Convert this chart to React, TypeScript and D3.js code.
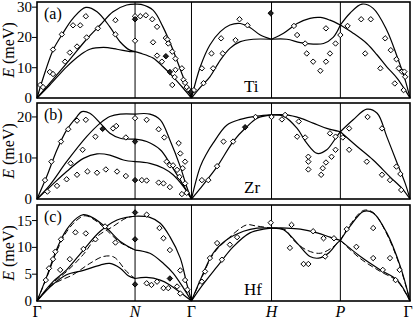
import React from 'react';
import * as d3 from 'd3';

// path coordinate along Γ-N-Γ-H-P-Γ (units of 2π/a)
const symPos = [0, 1.225, 1.93, 2.93, 3.79, 4.66];
const symLabels = ['Γ', 'N', 'Γ', 'H', 'P', 'Γ'];

type Pt = [number, number];

// ---- Ti ----
const tiCurves: Pt[][] = [
  [[0, 0], [0.1, 8.5], [0.2, 15.8], [0.31, 20.8], [0.45, 26.3], [0.61, 29.9], [0.75, 28.5], [0.91, 23.5], [1.04, 18.5], [1.16, 15.8], [1.225, 15.3]],
  [[0, 0], [0.16, 4.9], [0.37, 11.4], [0.62, 19.4], [0.79, 24.1], [0.95, 28.5], [1.12, 30.7], [1.225, 31]],
  [[0, 0], [0.16, 4.3], [0.37, 10.3], [0.54, 14.2], [0.66, 16.1], [0.83, 16.7], [1.0, 16.1], [1.16, 15.3], [1.225, 15.3]],
  [[1.225, 31], [1.3, 30.9], [1.45, 29], [1.575, 23.4], [1.7, 15.8], [1.825, 7], [1.93, 0]],
  [[1.225, 15.3], [1.29, 14.8], [1.45, 13.2], [1.575, 10.3], [1.7, 7], [1.825, 3.3], [1.93, 0]],
  [[1.93, 0], [2.04, 10.3], [2.16, 17.5], [2.29, 21.9], [2.41, 24.1], [2.54, 24.6], [2.66, 23.3], [2.79, 20.8], [2.93, 19.4]],
  [[1.93, 0], [2.04, 3.5], [2.16, 7], [2.29, 12.5], [2.41, 16.4], [2.54, 18.6], [2.7, 19.4], [2.93, 19.4]],
  [[2.93, 19.4], [3.08, 21.4], [3.25, 24.6], [3.41, 26.3], [3.54, 26.6], [3.66, 25.7], [3.79, 24.1]],
  [[2.93, 19.4], [3.12, 19.4], [3.29, 18.3], [3.45, 17.8], [3.58, 18], [3.7, 20], [3.79, 24.1]],
  [[3.79, 24.1], [3.91, 28], [4.06, 31], [4.2, 29.6], [4.37, 22.4], [4.5, 13.6], [4.6, 5.9], [4.66, 0]],
  [[3.79, 24.1], [3.95, 21.4], [4.12, 18], [4.25, 14.2], [4.37, 10.3], [4.5, 6.5], [4.6, 2.6], [4.66, 0]],
];
const tiPoints: Pt[] = [
  [0.04, 4.3], [0.075, 3.6], [0.16, 8.6], [0.2, 7.9], [0.2, 16], [0.31, 21], [0.35, 12], [0.41, 15], [0.45, 24],
  [0.5, 17], [0.54, 24], [0.61, 27], [0.62, 20], [0.76, 23], [0.98, 25.7], [0.98, 21], [1.225, 18.9], [1.225, 27],
  [1.29, 27], [1.36, 27.3], [1.44, 26], [1.45, 18.4], [1.5, 23.5], [1.61, 19.8], [1.63, 19.3], [1.64, 18],
  [1.69, 15.3], [1.5, 14], [1.56, 12], [1.73, 13], [1.81, 9.8], [1.73, 9.3], [1.72, 6.9], [1.83, 6], [1.69, 4.3],
  [1.85, 5], [1.87, 3.6], [1.9, 2.6], [1.96, 2.6],
  [2.06, 9.8], [2.08, 4.9], [2.2, 9.8], [2.18, 14.7], [2.3, 19.7], [2.32, 14.7], [2.48, 19.1], [2.53, 26], [2.63, 24],
  [3.21, 23.8], [3.25, 20.8], [3.35, 18], [3.37, 14.7], [3.45, 12], [3.54, 9], [3.61, 12], [3.66, 14.7], [3.61, 23],
  [3.73, 18], [3.79, 20.8], [3.88, 23.8], [4.05, 26], [4.17, 26], [4.35, 19.7], [4.1, 14.7], [4.42, 15.8], [4.29, 9.8],
  [4.49, 12.8], [4.52, 9.8], [4.56, 8.7], [4.59, 8.7], [4.6, 7], [4.47, 4.8], [4.58, 2.6],
];
const tiFilled: Pt[] = [[1.225, 26], [1.61, 13.8], [1.66, 8.6], [2.92, 28], [1.92, 2]];

// ---- Zr ----
const zrCurves: Pt[][] = [
  [[0, 0], [0.12, 5.4], [0.25, 12], [0.37, 16.8], [0.5, 20.1], [0.56, 21.3], [0.66, 20.9], [0.79, 18.5], [0.91, 16], [1.04, 14.8], [1.225, 14.6]],
  [[0, 0], [0.16, 3.4], [0.37, 9.1], [0.62, 15.2], [0.79, 18.5], [0.91, 20.1], [1.04, 20.7], [1.225, 20.7]],
  [[0, 0], [0.16, 2.9], [0.37, 6.7], [0.58, 9.9], [0.75, 11], [0.91, 10.7], [1.08, 9.5], [1.225, 9.1]],
  [[1.225, 20.7], [1.41, 20.7], [1.54, 19.3], [1.66, 14.4], [1.79, 7.9], [1.87, 3], [1.93, 0]],
  [[1.225, 14.6], [1.37, 14], [1.54, 12], [1.66, 8.7], [1.79, 4.6], [1.93, 0]],
  [[1.225, 9.1], [1.41, 8.7], [1.58, 7.5], [1.7, 5.9], [1.83, 3], [1.93, 0]],
  [[1.93, 0], [2.04, 7.9], [2.12, 11.1], [2.2, 13.6], [2.37, 18], [2.54, 19.4], [2.75, 20.2], [2.93, 20.5]],
  [[1.93, 0], [2.04, 2.6], [2.25, 7.9], [2.45, 14], [2.62, 17.6], [2.75, 19.7], [2.93, 20.5]],
  [[2.93, 20.5], [3.12, 20.5], [3.29, 19.7], [3.45, 18.5], [3.62, 17.2], [3.79, 16.4]],
  [[2.93, 20.5], [3.08, 20.2], [3.25, 17.2], [3.37, 13.6], [3.5, 11.1], [3.62, 12], [3.73, 14.8], [3.79, 16.4]],
  [[3.79, 16.4], [3.95, 19.3], [4.12, 21.9], [4.25, 20.9], [4.37, 15.2], [4.5, 8.7], [4.6, 3.8], [4.66, 0]],
  [[3.79, 16.4], [4.0, 12.8], [4.2, 9.5], [4.41, 5.4], [4.56, 2.6], [4.66, 0]],
];
const zrPoints: Pt[] = [
  [0.1, 4.6], [0.13, 1.8], [0.18, 9.1], [0.25, 3.2], [0.3, 14], [0.39, 17], [0.37, 4.8], [0.42, 8.7], [0.5, 19.1],
  [0.5, 5.9], [0.57, 12], [0.61, 19.3], [0.63, 6.7], [0.73, 15.2], [0.75, 6.4], [0.86, 7.2], [0.95, 17.2],
  [0.99, 17.8], [1.0, 6.7], [1.11, 15], [1.11, 5.6], [1.225, 19.7], [1.31, 4.6], [1.37, 4.5], [1.37, 19.3],
  [1.52, 17], [1.52, 4], [1.59, 15], [1.58, 3.8], [1.62, 9.1], [1.66, 8.2], [1.66, 2.9], [1.7, 8.2], [1.77, 13.6],
  [1.75, 7.1], [1.78, 5.4], [1.79, 11.1], [1.85, 9.1], [1.82, 7.5], [1.85, 3.8], [1.81, 1.2], [1.87, 1.5],
  [2.06, 4.6], [2.14, 4.6], [2.25, 8], [2.33, 14], [2.45, 14], [2.73, 20], [2.93, 20], [3.06, 19.4], [3.1, 20.5],
  [3.27, 18.9], [3.25, 15.2], [3.35, 15], [3.39, 10.3], [3.39, 9.1], [3.39, 7.2], [3.55, 5.9], [3.57, 7.5],
  [3.61, 8.9], [3.68, 10.3], [3.73, 12], [3.66, 16], [3.73, 15.2], [3.82, 15], [3.9, 17.2], [3.9, 12], [4.13, 20],
  [4.12, 9.1], [4.31, 17.2], [4.31, 5.9], [4.41, 4.6], [4.49, 7.9], [4.54, 6.1], [4.55, 2.2],
];
const zrFilled: Pt[] = [[0.82, 17.1], [1.225, 14], [1.225, 4.6], [2.6, 17.5]];

// ---- Hf ----
const hfCurves: Pt[][] = [
  [[0, 0], [0.12, 4.5], [0.25, 9.8], [0.37, 13.3], [0.5, 15.5], [0.58, 16.1], [0.7, 15.5], [0.87, 13.6], [1.04, 11.1], [1.225, 9.5]],
  [[0, 0], [0.2, 3.6], [0.37, 5.8], [0.58, 9.5], [0.79, 13], [1.0, 15.1], [1.12, 15.6], [1.225, 15.8]],
  [[0, 0], [0.2, 3.1], [0.37, 4.9], [0.58, 5.7], [0.79, 6.7], [0.91, 7], [1.04, 6.1], [1.14, 4.7], [1.225, 4.2]],
  [[1.225, 15.8], [1.41, 15.6], [1.54, 14.5], [1.66, 12], [1.79, 8], [1.87, 3.3], [1.93, 0]],
  [[1.225, 9.5], [1.41, 8.9], [1.58, 7], [1.7, 5.2], [1.83, 2.4], [1.93, 0]],
  [[1.225, 4.2], [1.37, 4.4], [1.54, 3.9], [1.66, 3], [1.81, 1.4], [1.93, 0]],
  [[1.93, 0], [2.04, 3.9], [2.2, 8.9], [2.37, 11.4], [2.58, 13], [2.75, 13.6], [2.93, 13.6]],
  [[1.93, 0], [2.04, 2.4], [2.25, 6.4], [2.45, 10.1], [2.66, 12.7], [2.83, 13.4], [2.93, 13.6]],
  [[2.93, 13.6], [3.12, 13.6], [3.29, 13.4], [3.5, 12.7], [3.66, 11.9], [3.79, 11.3]],
  [[2.93, 13.6], [3.08, 13.3], [3.25, 10.8], [3.41, 8.3], [3.52, 8], [3.64, 8.9], [3.75, 10.8], [3.79, 11.3]],
  [[3.79, 11.3], [3.91, 13.9], [4.08, 16.7], [4.2, 16.4], [4.37, 12.7], [4.54, 6.4], [4.66, 0]],
  [[3.79, 11.3], [4.04, 8.3], [4.29, 5.8], [4.5, 3.9], [4.66, 0]],
];
const hfDashed: Pt[][] = [
  [[0, 0], [0.12, 4.3], [0.25, 9.4], [0.37, 12.9], [0.5, 15.1], [0.6, 15.9], [0.75, 14.8], [0.87, 13.2], [1.04, 10.9], [1.225, 9.5]],
  [[0, 0], [0.2, 3.4], [0.37, 5.5], [0.58, 8.7], [0.75, 12], [0.95, 13.9], [1.12, 15.5], [1.225, 15.8]],
  [[0, 0], [0.2, 3.1], [0.45, 4.9], [0.66, 7], [0.83, 8.3], [0.96, 8.2], [1.12, 5.5], [1.225, 4.2]],
  [[1.93, 0], [2.04, 3.7], [2.2, 8.7], [2.37, 11.4], [2.62, 14.2], [2.73, 14.0], [2.93, 13.6]],
  [[2.93, 13.6], [3.1, 13.3], [3.2, 11.4], [3.37, 9.5], [3.54, 8.9], [3.7, 10.1], [3.79, 11.3]],
  [[3.79, 11.3], [3.91, 14.2], [4.08, 16.9], [4.2, 16.5], [4.37, 12.5], [4.54, 6.2], [4.66, 0]],
  [[3.79, 11.3], [4.04, 7.9], [4.29, 5.5], [4.5, 3.7], [4.66, 0]],
];
const hfPoints: Pt[] = [
  [0.11, 3.9], [0.15, 6.1], [0.2, 7.8], [0.23, 9.2], [0.29, 5.8], [0.3, 11.5], [0.41, 7.8], [0.48, 12.8],
  [0.58, 9.7], [0.61, 12.6], [0.73, 11.5], [0.85, 13.9], [0.98, 10.9], [1.37, 16.1], [1.37, 3.3], [1.43, 3],
  [1.5, 3.6], [1.53, 13.6], [1.58, 2.4], [1.58, 11.7], [1.64, 2.4], [1.66, 9.5], [1.75, 2.7], [1.79, 5.7],
  [1.79, 1.4], [1.85, 3.9], [1.88, 2.1],
  [2.06, 3.6], [2.1, 5.5], [2.16, 8], [2.25, 10.8], [2.31, 7.7], [2.41, 10.5], [2.5, 11.9], [2.92, 14.6],
  [3.18, 14.2], [3.16, 9.9], [3.33, 6.9], [3.39, 6.9], [3.45, 13], [3.58, 11.7], [3.6, 8.3], [3.71, 11.7],
  [3.87, 13.4], [3.99, 10.1], [4.2, 13.6], [4.2, 8], [4.32, 5.8], [4.41, 8], [4.48, 3.9], [4.53, 5.8],
];
const hfFilled: Pt[] = [[1.225, 16.5], [1.225, 11.5], [1.225, 3.1], [1.66, 4.2]];

const panels = [
  { tag: '(a)', metal: 'Ti', top: 2, bottom: 98, yMax: 31.7, ticks: [0, 10, 20, 30], curves: tiCurves, dashed: [] as Pt[][], points: tiPoints, filled: tiFilled },
  { tag: '(b)', metal: 'Zr', top: 103, bottom: 199, yMax: 23.4, ticks: [0, 10, 20], curves: zrCurves, dashed: [] as Pt[][], points: zrPoints, filled: zrFilled },
  { tag: '(c)', metal: 'Hf', top: 205, bottom: 301, yMax: 17.9, ticks: [0, 5, 10, 15], curves: hfCurves, dashed: hfDashed, points: hfPoints, filled: hfFilled },
];

const font = '"Liberation Serif", "Times New Roman", serif';

export default function App() {
  const x = d3.scaleLinear().domain([0, 4.66]).range([37, 410]);
  const left = x(0), right = x(4.66);

  return (
    <svg width={415} height={319} style={{ position: 'absolute', left: 0, top: 0, background: '#fff' }} fontFamily={font}>
      {panels.map((p) => {
        const y = d3.scaleLinear().domain([0, p.yMax]).range([p.bottom, p.top]);
        const line = d3.line<Pt>().x(d => x(d[0])).y(d => y(d[1])).curve(d3.curveCatmullRom.alpha(0.5));
        const diamond = (d: Pt, r: number) => {
          const cx = x(d[0]), cy = y(d[1]);
          return `M${cx},${cy - r}L${cx + r},${cy}L${cx},${cy + r}L${cx - r},${cy}Z`;
        };
        return (
          <g key={p.tag}>
            {symPos.slice(1, 5).map((s, i) => (
              <line key={i} x1={x(s)} x2={x(s)} y1={p.top} y2={p.bottom} stroke="#000" strokeWidth={1} />
            ))}
            {p.ticks.map(t => (
              <g key={t}>
                {t > 0 && <line x1={left - 5} x2={left} y1={y(t)} y2={y(t)} stroke="#000" strokeWidth={1} />}
                <text x={32} y={y(t)} textAnchor="end" dominantBaseline="central" fontSize={15}>{t}</text>
              </g>
            ))}
            {p.curves.map((c, i) => (
              <path key={'c' + i} d={line(c) || ''} fill="none" stroke="#000" strokeWidth={1.2} />
            ))}
            {p.dashed.map((c, i) => (
              <path key={'d' + i} d={line(c) || ''} fill="none" stroke="#000" strokeWidth={1} strokeDasharray="6,3" />
            ))}
            {p.points.map((d, i) => (
              <path key={'p' + i} d={diamond(d, 2.7)} fill="#fff" stroke="#000" strokeWidth={1} />
            ))}
            {p.filled.map((d, i) => (
              <path key={'f' + i} d={diamond(d, 2.7)} fill="#222" stroke="#000" strokeWidth={1} />
            ))}
            <rect x={left} y={p.top} width={right - left} height={p.bottom - p.top} fill="none" stroke="#000" strokeWidth={1.6} />
            <text x={44} y={p.top + 17} fontSize={16}>{p.tag}</text>
            <text x={244} y={p.bottom - 6} fontSize={17}>{p.metal}</text>
            <text transform={`translate(14,${(p.top + p.bottom) / 2}) rotate(-90)`} textAnchor="middle" fontSize={16}>
              <tspan fontStyle="italic">E</tspan> (meV)
            </text>
          </g>
        );
      })}
      {symPos.map((s, i) => (
        <text key={i} x={Math.min(x(s), 408)} y={317} textAnchor="middle" fontSize={16}
          fontStyle={i === 0 || i === 2 || i === 5 ? 'normal' : 'italic'}>{symLabels[i]}</text>
      ))}
    </svg>
  );
}
